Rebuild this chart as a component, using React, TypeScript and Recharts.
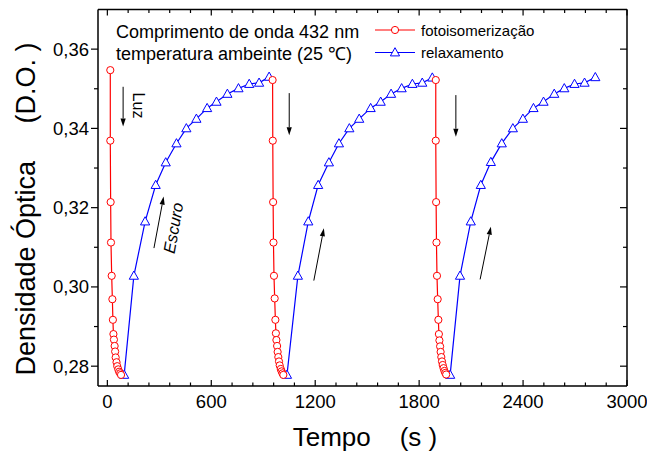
import React from 'react'
import { ScatterChart, Scatter, XAxis, YAxis, ReferenceLine } from 'recharts'

// axis ticks
const xMajorTicks = [0, 600, 1200, 1800, 2400, 3000]
const xMinorTicks = [120, 240, 360, 480, 720, 840, 960, 1080, 1320, 1440, 1560, 1680, 1920, 2040, 2160, 2280, 2520, 2640, 2760, 2880]
const yMajorTicks = [0.28, 0.3, 0.32, 0.34, 0.36]
const yMinorTicks = [0.29, 0.31, 0.33, 0.35]

// fotoisomerização (luz) - three cycles
const fotoTime1 = [17, 17, 19, 21, 25, 29, 32, 35, 38, 42, 45, 48, 53, 57, 63, 68, 74, 79]
const fotoOD1 = [0.3547, 0.3369, 0.3214, 0.3112, 0.3028, 0.2969, 0.2917, 0.2881, 0.2867, 0.2851, 0.2837, 0.2822, 0.281, 0.28, 0.2792, 0.2786, 0.2782, 0.2778]
const fotoTime2 = [954, 955, 957, 959, 962, 966, 970, 973, 976, 980, 983, 987, 991, 995, 1001, 1006, 1011, 1016]
const fotoOD2 = [0.3522, 0.3369, 0.3214, 0.3112, 0.3028, 0.2971, 0.2917, 0.2883, 0.2866, 0.2851, 0.2836, 0.2823, 0.2812, 0.2802, 0.2793, 0.2787, 0.2782, 0.2778]
const fotoTime3 = [1896, 1896, 1898, 1900, 1903, 1907, 1911, 1914, 1917, 1921, 1924, 1928, 1932, 1936, 1941, 1946, 1951, 1956]
const fotoOD3 = [0.3522, 0.3369, 0.3214, 0.3112, 0.3028, 0.2969, 0.2917, 0.2881, 0.2865, 0.285, 0.2836, 0.2823, 0.2812, 0.2803, 0.2795, 0.2788, 0.2783, 0.2779]

// relaxamento (escuro)
const relaxTime1 = [97, 153, 218, 279, 337, 399, 456, 514, 576, 630, 693, 757, 819, 876, 934]
const relaxOD1 = [0.2778, 0.3028, 0.3165, 0.3257, 0.3314, 0.3362, 0.34, 0.3424, 0.3451, 0.3467, 0.3487, 0.3501, 0.3512, 0.3515, 0.353]
const relaxTime2 = [1037, 1100, 1160, 1217, 1279, 1337, 1397, 1454, 1520, 1578, 1638, 1699, 1761, 1818, 1876]
const relaxOD2 = [0.2778, 0.3028, 0.3165, 0.3257, 0.3314, 0.3362, 0.34, 0.3424, 0.3451, 0.3467, 0.3487, 0.3501, 0.3512, 0.3515, 0.3528]
const relaxTime3 = [1979, 2036, 2098, 2156, 2214, 2277, 2341, 2399, 2460, 2518, 2580, 2638, 2697, 2755, 2817]
const relaxOD3 = [0.2778, 0.3028, 0.3165, 0.3257, 0.3315, 0.3362, 0.34, 0.3424, 0.3451, 0.3467, 0.3487, 0.3501, 0.3512, 0.3515, 0.3529]

// arrows: [tailTime, tailOD, tipTime, tipOD]
const arrows = [
  [91, 0.3505, 91, 0.3405],
  [269, 0.3098, 325, 0.3228],
  [1050, 0.3489, 1050, 0.3383],
  [1192, 0.3016, 1250, 0.3148],
  [2012, 0.3484, 2012, 0.3379],
  [2152, 0.3019, 2214, 0.3152],
]

const zip = (t: number[], v: number[]) => t.map((x, i) => ({ t: x, v: v[i] }))

const fotoCycles = [zip(fotoTime1, fotoOD1), zip(fotoTime2, fotoOD2), zip(fotoTime3, fotoOD3)]
const relaxCycles = [zip(relaxTime1, relaxOD1), zip(relaxTime2, relaxOD2), zip(relaxTime3, relaxOD3)]

const RED = '#ff0000'
const BLUE = '#0000ff'
const FONT = '"Liberation Sans", Arial, Helvetica, sans-serif'

// plot frame (from chart margins / axis sizes)
const W = 647
const H = 453
const M_TOP = 9.5
const M_RIGHT = 20
const X_AXIS_H = 67
const Y_AXIS_W = 98
const PLOT_TOP = M_TOP
const PLOT_RIGHT = W - M_RIGHT

const CircleMark = (p: any) => (
  <circle cx={p.cx} cy={p.cy} r={3.6} fill="#fff" stroke={RED} strokeWidth={1} />
)

const TriangleMark = (p: any) => {
  const { cx, cy } = p
  return (
    <polygon
      points={`${cx},${cy - 4.8} ${cx - 4.6},${cy + 3.4} ${cx + 4.6},${cy + 3.4}`}
      fill="#fff"
      stroke={BLUE}
      strokeWidth={1}
    />
  )
}

const ArrowShape = (p: any) => {
  const { x1, y1, x2, y2 } = p
  const dx = x2 - x1
  const dy = y2 - y1
  const len = Math.sqrt(dx * dx + dy * dy) || 1
  const ux = dx / len
  const uy = dy / len
  const hl = 8
  const hw = 2.6
  const bx = x2 - ux * hl
  const by = y2 - uy * hl
  return (
    <g>
      <line x1={x1} y1={y1} x2={bx} y2={by} stroke="#000" strokeWidth={1} />
      <polygon
        points={`${x2},${y2} ${bx - uy * hw},${by + ux * hw} ${bx + uy * hw},${by - ux * hw}`}
        fill="#000"
      />
    </g>
  )
}

const fmt = (v: number) => v.toFixed(2).replace('.', ',')

// bottom axis tick: inward tick at bottom and mirrored at top, label only for majors
const XTick = (p: any) => {
  const { x, y, payload } = p
  const major = xMajorTicks.includes(payload.value)
  const len = major ? 6 : 3.5
  return (
    <g>
      <line x1={x} y1={y} x2={x} y2={y - len} stroke="#000" strokeWidth={1.2} />
      <line x1={x} y1={PLOT_TOP} x2={x} y2={PLOT_TOP + len} stroke="#000" strokeWidth={1.2} />
      {major && (
        <text x={x} y={y + 9} dy="0.71em" textAnchor="middle" fontSize={18.5} fontFamily={FONT} fill="#000">
          {payload.value}
        </text>
      )}
    </g>
  )
}

// left axis tick: outward on the left, inward on the right frame
const YTick = (p: any) => {
  const { x, y, payload } = p
  const major = yMajorTicks.some((t) => Math.abs(t - payload.value) < 1e-6)
  const len = major ? 7 : 4
  return (
    <g>
      <line x1={x - len} y1={y} x2={x} y2={y} stroke="#000" strokeWidth={1.2} />
      <line x1={PLOT_RIGHT - len} y1={y} x2={PLOT_RIGHT} y2={y} stroke="#000" strokeWidth={1.2} />
      {major && (
        <text x={x - 9} y={y} dy="0.355em" textAnchor="end" fontSize={18.5} fontFamily={FONT} fill="#000">
          {fmt(payload.value)}
        </text>
      )}
    </g>
  )
}

export default function App() {
  const domX: [number, number] = [-54, 3000]
  const domY: [number, number] = [0.275, 0.37]
  const axisLine = { stroke: '#000', strokeWidth: 1.5 }
  const xTicks = [...xMajorTicks, ...xMinorTicks].sort((a, b) => a - b)
  const yTicks = [...yMajorTicks, ...yMinorTicks].sort((a, b) => a - b)
  return (
    <div style={{ position: 'absolute', left: 0, top: 0, width: W, height: H, background: '#fff' }}>
      <ScatterChart width={W} height={H} margin={{ top: M_TOP, right: M_RIGHT, bottom: 0, left: 0 }}>
        <XAxis
          xAxisId="main"
          type="number"
          dataKey="t"
          domain={domX}
          allowDataOverflow
          ticks={xTicks}
          interval={0}
          height={X_AXIS_H}
          tickLine={false}
          tickSize={0}
          tickMargin={0}
          axisLine={axisLine}
          tick={<XTick />}
        />
        <YAxis
          yAxisId="main"
          type="number"
          dataKey="v"
          domain={domY}
          allowDataOverflow
          ticks={yTicks}
          interval={0}
          width={Y_AXIS_W}
          tickLine={false}
          tickSize={0}
          tickMargin={0}
          axisLine={axisLine}
          tick={<YTick />}
        />

        <ReferenceLine xAxisId="main" yAxisId="main" y={0.37} stroke="#000" strokeWidth={1.5} />
        <ReferenceLine xAxisId="main" yAxisId="main" x={3000} stroke="#000" strokeWidth={1.5} />

        {relaxCycles.map((d, i) => (
          <Scatter
            key={'r' + i}
            xAxisId="main"
            yAxisId="main"
            data={d}
            line={{ stroke: BLUE, strokeWidth: 1.2 }}
            shape={TriangleMark}
            isAnimationActive={false}
          />
        ))}
        {fotoCycles.map((d, i) => (
          <Scatter
            key={'f' + i}
            xAxisId="main"
            yAxisId="main"
            data={d}
            line={{ stroke: RED, strokeWidth: 1.2 }}
            shape={CircleMark}
            isAnimationActive={false}
          />
        ))}

        {arrows.map((a, i) => (
          <ReferenceLine
            key={'a' + i}
            xAxisId="main"
            yAxisId="main"
            segment={[{ x: a[0], y: a[1] }, { x: a[2], y: a[3] }]}
            stroke="#000"
            shape={ArrowShape}
          />
        ))}
      </ScatterChart>

      <svg width={W} height={H} style={{ position: 'absolute', left: 0, top: 0, pointerEvents: 'none' }}>
        <g fontFamily={FONT} fill="#000">
          <text x={116} y={38} fontSize={18}>Comprimento de onda 432 nm</text>
          <text x={116} y={60} fontSize={18}>temperatura ambeinte (25 ℃)</text>

          <line x1={375} y1={30} x2={415} y2={30} stroke={RED} strokeWidth={1.2} />
          <circle cx={395} cy={30} r={3.6} fill="#fff" stroke={RED} />
          <text x={421} y={35.5} fontSize={15}>fotoisomerização</text>
          <line x1={375} y1={52.5} x2={415} y2={52.5} stroke={BLUE} strokeWidth={1.2} />
          <polygon points="395,47.7 390.4,55.9 399.6,55.9" fill="#fff" stroke={BLUE} />
          <text x={421} y={58} fontSize={15}>relaxamento</text>

          <text transform="translate(133,105.5) rotate(90)" textAnchor="middle" fontSize={16}>Luz</text>
          <text transform="translate(179,229) rotate(-80)" textAnchor="middle" fontSize={16.5} fontStyle="italic">Escuro</text>

          <text transform="translate(35,209) rotate(-90)" textAnchor="middle" fontSize={27}>
            Densidade Óptica{'\u00a0\u00a0\u00a0\u00a0\u00a0'}(D.O. )
          </text>
          <text x={365} y={446} textAnchor="middle" fontSize={26}>
            Tempo{'\u00a0\u00a0\u00a0\u00a0'}(s )
          </text>
        </g>
      </svg>
    </div>
  )
}
